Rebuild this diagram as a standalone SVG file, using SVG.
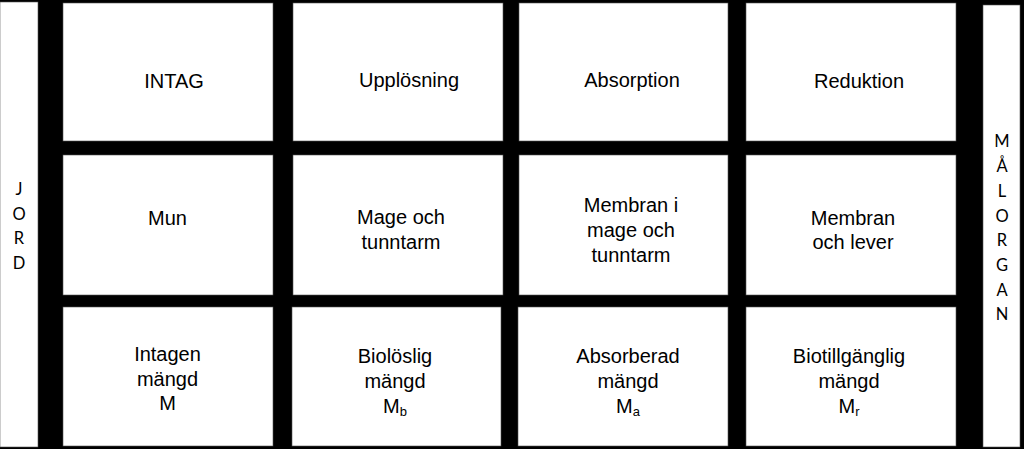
<svg xmlns="http://www.w3.org/2000/svg" width="1024" height="449" viewBox="0 0 1024 449">
<style>
.box{fill:#fff;stroke:#555;stroke-width:0.6}
.t{font-family:"Liberation Sans",Arial,sans-serif;font-size:20px;fill:#000;text-anchor:middle}
.s{font-size:13px}
.v{font-family:Lato,"Open Sans",sans-serif;font-size:16.5px;fill:#000;text-anchor:middle}
</style>
<rect x="0" y="0" width="1024" height="449" fill="#000"/>
<g id="jord">
<rect class="box" x="0" y="2" width="38" height="445"/>
<text class="v" x="19" y="195">J</text>
<text class="v" x="19" y="219.5">O</text>
<text class="v" x="19" y="244">R</text>
<text class="v" x="19" y="269">D</text>
</g>
<g id="malorgan">
<rect class="box" x="983" y="5" width="37" height="442"/>
<text class="v" x="1002" y="147">M</text>
<text class="v" x="1002" y="172">Å</text>
<text class="v" x="1002" y="196.5">L</text>
<text class="v" x="1002" y="221.5">O</text>
<text class="v" x="1002" y="246">R</text>
<text class="v" x="1002" y="271">G</text>
<text class="v" x="1002" y="295.5">A</text>
<text class="v" x="1002" y="320">N</text>
</g>
<g id="intag">
<rect class="box" x="63" y="3" width="210" height="138"/>
<text class="t" x="174" y="88">INTAG</text>
</g>
<g id="upplosning">
<rect class="box" x="293" y="3" width="210" height="138"/>
<text class="t" x="409" y="87">Upplösning</text>
</g>
<g id="absorption">
<rect class="box" x="519" y="3" width="209" height="138"/>
<text class="t" x="632" y="87">Absorption</text>
</g>
<g id="reduktion">
<rect class="box" x="746" y="3" width="210" height="138"/>
<text class="t" x="859" y="88">Reduktion</text>
</g>
<g id="mun">
<rect class="box" x="63" y="155" width="210" height="140"/>
<text class="t" x="167.5" y="225">Mun</text>
</g>
<g id="mage">
<rect class="box" x="293" y="155" width="210" height="140"/>
<text class="t" x="401" y="224">Mage och</text>
<text class="t" x="401" y="249">tunntarm</text>
</g>
<g id="membran-mage">
<rect class="box" x="519" y="155" width="209" height="140"/>
<text class="t" x="631" y="212">Membran i</text>
<text class="t" x="631" y="237">mage och</text>
<text class="t" x="631" y="262">tunntarm</text>
</g>
<g id="membran-lever">
<rect class="box" x="746" y="155" width="210" height="140"/>
<text class="t" x="853" y="225">Membran</text>
<text class="t" x="853" y="249">och lever</text>
</g>
<g id="intagen">
<rect class="box" x="63" y="307" width="210" height="139"/>
<text class="t" x="167.5" y="361">Intagen</text>
<text class="t" x="167.5" y="386">mängd</text>
<text class="t" x="167.5" y="410">M</text>
</g>
<g id="biloslig">
<rect class="box" x="292" y="307" width="209" height="139"/>
<text class="t" x="395" y="363">Biolöslig</text>
<text class="t" x="395" y="388">mängd</text>
<text class="t" x="395" y="413">M<tspan class="s" dy="3">b</tspan></text>
</g>
<g id="absorberad">
<rect class="box" x="518" y="307" width="210" height="139"/>
<text class="t" x="628" y="363">Absorberad</text>
<text class="t" x="628" y="388">mängd</text>
<text class="t" x="628" y="413">M<tspan class="s" dy="3">a</tspan></text>
</g>
<g id="biotillganglig">
<rect class="box" x="746" y="307" width="210" height="139"/>
<text class="t" x="849" y="363">Biotillgänglig</text>
<text class="t" x="849" y="388">mängd</text>
<text class="t" x="849" y="413">M<tspan class="s" dy="3">r</tspan></text>
</g>
<g id="connectors"/>
</svg>
